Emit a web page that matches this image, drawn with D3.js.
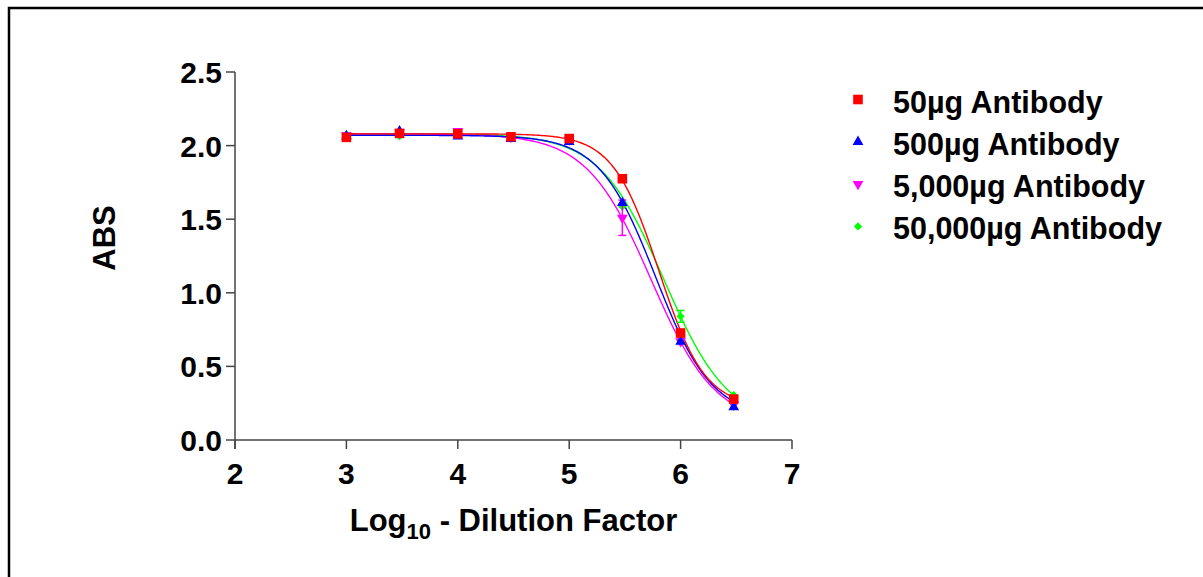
<!DOCTYPE html>
<html>
<head>
<meta charset="utf-8">
<script src="https://cdn.jsdelivr.net/npm/d3@7"></script>
<style>
  html, body { margin: 0; padding: 0; background: #fff; }
  svg { display: block; }
  text { font-family: "Liberation Sans", Arial, sans-serif; font-weight: bold; fill: #000; }
</style>
</head>
<body>
<svg id="chart" width="1203" height="577"></svg>
<script>
// ---- data ----
const logDilution = [3, 3.477, 4, 4.477, 5, 5.477, 6, 6.477];
const seriesNames = ["50\u00b5g Antibody", "500\u00b5g Antibody", "5,000\u00b5g Antibody", "50,000\u00b5g Antibody"];
const abs50 = [2.056, 2.083, 2.080, 2.060, 2.048, 1.775, 0.727, 0.278];
const abs500 = [2.065, 2.098, 2.062, 2.045, 2.025, 1.610, 0.668, 0.224];
const abs5000 = [2.070, 2.090, 2.098, 2.058, 2.040, 1.510, 0.670, 0.240];
const abs50000 = [2.075, 2.065, 2.078, 2.060, 2.040, 1.585, 0.840, 0.305];
const err50 = [0, 0, 0, 0, 0, 0, 0, 0];
const err500 = [0, 0, 0, 0, 0, 0, 0, 0];
const err5000 = [0, 0, 0, 0, 0, 0.12, 0, 0];
const err50000 = [0, 0, 0, 0, 0, 0, 0.04, 0];
// four-parameter logistic fit parameters for each curve
const fitTop = [2.08, 2.07, 2.08, 2.08];
const fitBottom = [0.22, 0.15, 0.10, 0.10];
const fitLogEC50 = [5.805, 5.775, 5.735, 5.85];
const fitHill = [2.1, 1.72, 1.5, 1.5];
const xTicks = [2, 3, 4, 5, 6, 7];
const yTicks = [0, 0.5, 1.0, 1.5, 2.0, 2.5];

const colors = ["#ff0000", "#0000ff", "#ff00ff", "#00ff00"];
const values = [abs50, abs500, abs5000, abs50000];
const errors = [err50, err500, err5000, err50000];

const svg = d3.select("#chart");

// outer frame
svg.append("rect").attr("x", 9).attr("y", 8).attr("width", 1400).attr("height", 800)
  .attr("fill", "none").attr("stroke", "#000").attr("stroke-width", 2.5);

const x = d3.scaleLinear().domain([2, 7]).range([235, 792]);
const y = d3.scaleLinear().domain([0, 2.5]).range([440, 72]);

const axisColor = "#444";

// y axis
const gy = svg.append("g");
gy.append("line").attr("x1", x(2)).attr("x2", x(2)).attr("y1", y(2.5)).attr("y2", y(0) + 9)
  .attr("stroke", axisColor).attr("stroke-width", 1.5);
gy.selectAll(".yt").data(yTicks).enter().append("line")
  .attr("x1", x(2) - 9).attr("x2", x(2)).attr("y1", d => y(d)).attr("y2", d => y(d))
  .attr("stroke", axisColor).attr("stroke-width", 1.5);
gy.selectAll(".yl").data(yTicks).enter().append("text")
  .attr("x", x(2) - 13).attr("y", d => y(d) + 11)
  .attr("text-anchor", "end").attr("font-size", 30)
  .text(d => d3.format(".1f")(d));

// x axis
const gx = svg.append("g");
gx.append("line").attr("x1", x(2)).attr("x2", x(7)).attr("y1", y(0)).attr("y2", y(0))
  .attr("stroke", axisColor).attr("stroke-width", 1.5);
gx.selectAll(".xt").data(xTicks).enter().append("line")
  .attr("x1", d => x(d)).attr("x2", d => x(d)).attr("y1", y(0)).attr("y2", y(0) + 9)
  .attr("stroke", axisColor).attr("stroke-width", 1.5);
gx.selectAll(".xl").data(xTicks).enter().append("text")
  .attr("x", d => x(d)).attr("y", 484)
  .attr("text-anchor", "middle").attr("font-size", 30)
  .text(d => d);

// axis titles
const xt = svg.append("text").attr("x", (x(2) + x(7)) / 2).attr("y", 531)
  .attr("text-anchor", "middle").attr("font-size", 31);
xt.append("tspan").text("Log");
xt.append("tspan").attr("font-size", 22).attr("dy", 8).text("10");
xt.append("tspan").attr("dy", -8).text(" - Dilution Factor");

svg.append("text").attr("transform", "translate(115," + 238 + ") rotate(-90)")
  .attr("text-anchor", "middle").attr("font-size", 31).text("ABS");

// fitted curves
const line = d3.line().x(d => x(d[0])).y(d => y(d[1])).curve(d3.curveLinear);
const drawOrder = [3, 2, 1, 0];
const x0 = logDilution[0], x1 = logDilution[logDilution.length - 1];
drawOrder.forEach(i => {
  const pts = d3.range(0, 301).map(k => {
    const xv = x0 + (x1 - x0) * k / 300;
    const yv = fitBottom[i] + (fitTop[i] - fitBottom[i]) / (1 + Math.pow(10, (xv - fitLogEC50[i]) * fitHill[i]));
    return [xv, yv];
  });
  svg.append("path").attr("d", line(pts)).attr("fill", "none")
    .attr("stroke", colors[i]).attr("stroke-width", 1.4);
});

// symbols
function symbolPath(i) {
  if (i === 0) return d3.symbol().type(d3.symbolSquare).size(92)();
  if (i === 1) return d3.symbol().type(d3.symbolTriangle).size(50)();
  if (i === 2) return d3.symbol().type(d3.symbolTriangle).size(50)();
  return d3.symbol().type(d3.symbolSquare).size(34)();
}
function symbolRotate(i) {
  if (i === 2) return " rotate(180)";
  if (i === 3) return " rotate(45)";
  return "";
}

drawOrder.forEach(i => {
  const g = svg.append("g");
  const data = logDilution.map((xv, k) => ({ x: xv, y: values[i][k], e: errors[i][k] }));
  // error bars
  data.filter(d => d.e > 0).forEach(d => {
    g.append("line").attr("x1", x(d.x)).attr("x2", x(d.x)).attr("y1", y(d.y - d.e)).attr("y2", y(d.y + d.e))
      .attr("stroke", colors[i]).attr("stroke-width", 1.5);
    [d.y - d.e, d.y + d.e].forEach(v => {
      g.append("line").attr("x1", x(d.x) - 4).attr("x2", x(d.x) + 4).attr("y1", y(v)).attr("y2", y(v))
        .attr("stroke", colors[i]).attr("stroke-width", 1.5);
    });
  });
  g.selectAll("path").data(data).enter().append("path")
    .attr("d", symbolPath(i))
    .attr("transform", d => "translate(" + x(d.x) + "," + y(d.y) + ")" + symbolRotate(i))
    .attr("fill", colors[i]);
});

// legend
const legendY0 = 99.5, legendDy = 42.3;
seriesNames.forEach((name, i) => {
  const ly = legendY0 + i * legendDy;
  svg.append("path").attr("d", symbolPath(i))
    .attr("transform", "translate(858," + ly + ")" + symbolRotate(i))
    .attr("fill", colors[i]);
  svg.append("text").attr("x", 893).attr("y", ly + 13).attr("font-size", 30.5).text(name);
});
</script>
</body>
</html>
